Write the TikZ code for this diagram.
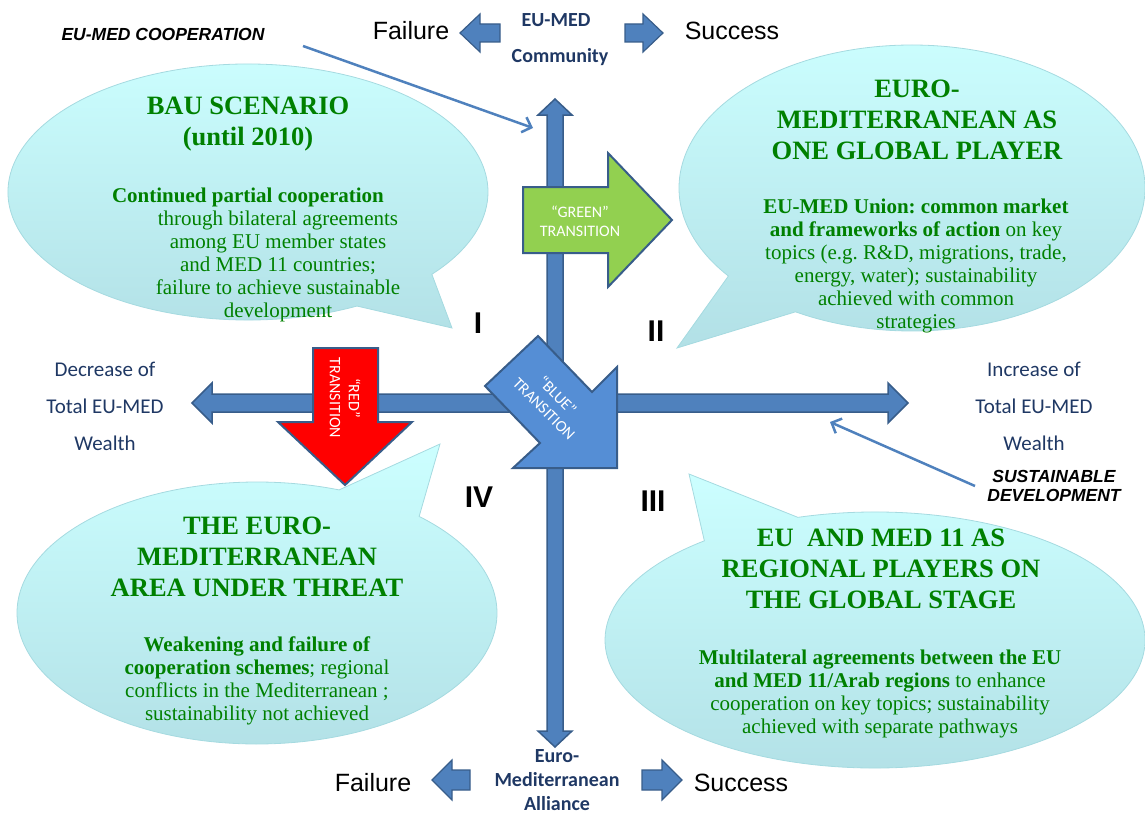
\documentclass[tikz,border=0pt]{standalone}
\usepackage{fontspec}
\setmainfont{Liberation Serif}
\newfontfamily\calibfont{Carlito}
\newfontfamily\arialfont{Liberation Sans}
\usetikzlibrary{arrows.meta}
\frenchspacing
\definecolor{axisblue}{RGB}{79,129,189}
\definecolor{axisborder}{RGB}{56,93,138}
\definecolor{bluetr}{RGB}{85,142,213}
\definecolor{greentr}{RGB}{146,208,80}
\definecolor{redtr}{RGB}{255,0,0}
\definecolor{navy}{RGB}{31,56,100}
\definecolor{txtgreen}{RGB}{0,128,0}
\definecolor{bubtop}{RGB}{204,255,255}
\definecolor{bubbot}{RGB}{178,224,230}
\definecolor{bubline}{RGB}{165,218,224}
\tikzset{
  bubble/.style={top color=bubtop, bottom color=bubbot, draw=bubline, line width=0.8pt},
  blockarrow/.style={fill=axisblue, draw=axisborder, line width=1.5pt, line join=miter},
  smallarrow/.style={fill=axisblue, draw=axisborder, line width=1.2pt, line join=miter},
  trarrow/.style={draw=axisborder, line width=2pt, line join=miter},
  pointer/.style={draw=axisblue, line width=2.5pt, -{Straight Barb[length=8pt,width=16pt]}},
  title/.style={font=\bfseries\fontsize{26.5}{31}\selectfont, text=txtgreen, align=center, inner sep=0pt},
  body/.style={font=\fontsize{21}{23}\selectfont, text=txtgreen, align=center, inner sep=0pt},
  axislabel/.style={font=\calibfont\fontsize{21}{37}\selectfont, text=navy, align=center, inner sep=0pt},
  dimlabel/.style={font=\calibfont\bfseries\fontsize{20}{24}\selectfont, text=navy, align=center, inner sep=0pt},
  outcome/.style={font=\arialfont\fontsize{25}{28}\selectfont, text=black, inner sep=0pt},
  numeral/.style={font=\arialfont\bfseries\fontsize{30}{32}\selectfont, text=black, inner sep=0pt},
  driver/.style={font=\arialfont\bfseries\itshape\fontsize{17.5}{18.5}\selectfont, text=black, align=center, inner sep=0pt},
  trtext/.style={font=\calibfont\fontsize{16}{19}\selectfont, text=white, align=center, inner sep=0pt}
}
\begin{document}
\begin{tikzpicture}[x=1pt,y=-1pt]
\useasboundingbox (0,0) rectangle (1145,816);

% speech bubbles
\path[bubble] (248,192) ++(63:240 and 128) arc[start angle=63, end angle=400, x radius=240, y radius=128] -- (452,328) -- cycle;
\path[bubble] (912,188) ++(142:233 and 143) arc[start angle=142, end angle=480, x radius=233, y radius=143] -- (677,348) -- cycle;
\path[bubble] (257,613) ++(-47.5:240 and 131) arc[start angle=-47.5, end angle=290, x radius=240, y radius=131] -- (440,444) -- cycle;
\path[bubble] (875,640) ++(253.4:270 and 128) arc[start angle=253.4, end angle=590.8, x radius=270, y radius=128] -- (689,474) -- cycle;

% axes
\draw[blockarrow] (192,403) -- (212,383) -- (212,394) -- (888,394) -- (888,383) -- (908,403) -- (888,423) -- (888,412) -- (212,412) -- (212,423) -- cycle;
\draw[blockarrow] (555,99) -- (572,115) -- (563,115) -- (563,731) -- (572,731) -- (555,747) -- (538,731) -- (547,731) -- (547,115) -- (538,115) -- cycle;

% small outcome arrows
\draw[smallarrow] (460,33) -- (480,14) -- (480,24) -- (500,24) -- (500,42) -- (480,42) -- (480,52) -- cycle;
\draw[smallarrow] (663,33) -- (643,14) -- (643,24) -- (625,24) -- (625,42) -- (643,42) -- (643,52) -- cycle;
\draw[smallarrow] (432,780) -- (452,760) -- (452,770) -- (470,770) -- (470,790) -- (452,790) -- (452,800) -- cycle;
\draw[smallarrow] (682,780) -- (662,760) -- (662,770) -- (642,770) -- (642,790) -- (662,790) -- (662,800) -- cycle;

% transition arrows
\draw[trarrow, fill=greentr] (523,187) -- (608,187) -- (608,153) -- (672,220) -- (608,287) -- (608,253) -- (523,253) -- cycle;
\draw[trarrow, fill=redtr] (313,348) -- (378,348) -- (378,422) -- (412,422) -- (345,485) -- (278,422) -- (313,422) -- cycle;
\draw[trarrow, fill=bluetr] (538,336) -- (592,392) -- (617,367) -- (617,468) -- (513,468) -- (540,443) -- (485,386) -- cycle;

\node[trtext] (greentxt) at (580,221) {“GREEN”\\TRANSITION};
\node[trtext, rotate=-90] (redtxt) at (345,398) {“RED”\\TRANSITION};
\node[trtext, rotate=-45] (bluetxt) at (551,402) {“BLUE”\\TRANSITION};

% bubble texts
\node[title] (t1) at (248,124) {BAU SCENARIO\\(until 2010)};
\node[body] (b1) at (278,255) {\textbf{Continued partial cooperation}\hspace*{60pt}\\through bilateral agreements\\among EU member states\\and MED 11 countries;\\failure to achieve sustainable\\development};

\node[title] (t2) at (917,120) {EURO-\\MEDITERRANEAN AS\\ONE GLOBAL PLAYER};
\node[body] (b2) at (916,266) {\textbf{EU-MED Union: common market}\\\textbf{and frameworks of action} on key\\topics (e.g. R\&D, migrations, trade,\\energy, water); sustainability\\achieved with common\\strategies};

\node[title] (t4) at (257,557) {THE EURO-\\MEDITERRANEAN\\AREA UNDER THREAT};
\node[body] (b4) at (257,681) {\textbf{Weakening and failure of}\\\textbf{cooperation schemes}; regional\\conflicts in the Mediterranean ;\\sustainability not achieved};

\node[title] (t3) at (881,569) {EU\ \ AND MED 11 AS\\REGIONAL PLAYERS ON\\THE GLOBAL STAGE};
\node[body] (b3) at (880,694) {\textbf{Multilateral agreements between the EU}\\\textbf{and MED 11/Arab regions} to enhance\\cooperation on key topics; sustainability\\achieved with separate pathways};

% axis labels
\node[axislabel] (dec) at (105,406) {Decrease of\\Total EU-MED\\Wealth};
\node[axislabel] (inc) at (1034,406) {Increase of\\Total EU-MED\\Wealth};
\node[dimlabel] (eumed) at (556,20) {EU-MED};
\node[dimlabel] (community) at (560,57) {Community};
\node[dimlabel] (alliance) at (557,780) {Euro-\\Mediterranean\\Alliance};

\node[outcome] (fail1) at (411,31) {Failure};
\node[outcome] (succ1) at (732,31) {Success};
\node[outcome] (fail2) at (373,783) {Failure};
\node[outcome] (succ2) at (741,783) {Success};

\node[numeral] (q1) at (478,323) {I};
\node[numeral] (q2) at (656,331) {II};
\node[numeral] (q4) at (479,497) {IV};
\node[numeral] (q3) at (653,501) {III};

% drivers
\node[driver] (coop) at (163,34) {EU-MED COOPERATION};
\node[driver] (susdev) at (1054,486) {SUSTAINABLE\\DEVELOPMENT};
\coordinate (coopstart) at (303,46);
\coordinate (coopend) at (533,128);
\coordinate (susstart) at (975,486);
\coordinate (susend) at (830,422);
\draw[pointer] (coopstart) -- (coopend);
\draw[pointer] (susstart) -- (susend);
\end{tikzpicture}
\end{document}
